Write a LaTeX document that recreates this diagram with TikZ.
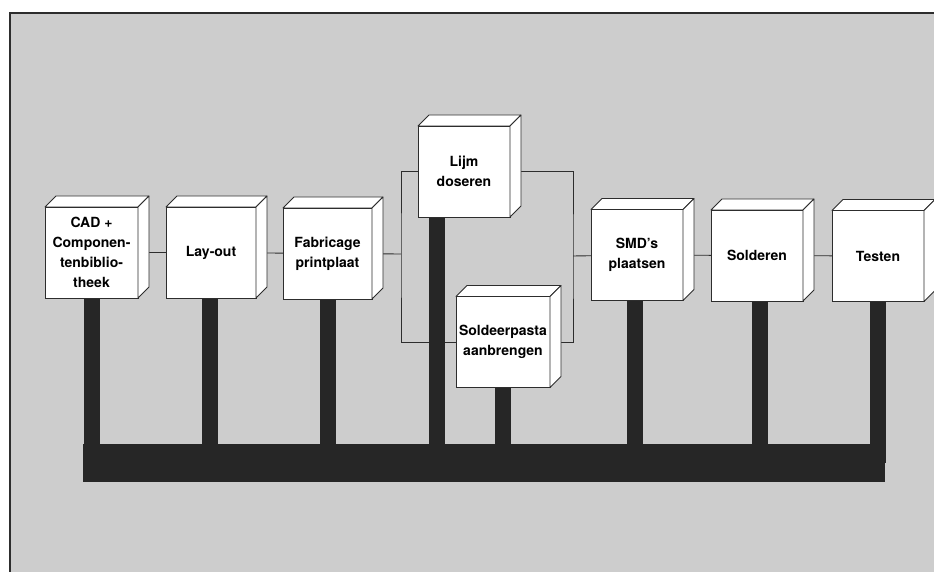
\documentclass[tikz,border=0pt]{standalone}
\usepackage{fontspec}
\setmainfont{TeX Gyre Heros}
\begin{document}
\pgfdeclarelayer{panel}
\pgfdeclarelayer{background}
\pgfsetlayers{panel,background,main}
\definecolor{panelgray}{RGB}{205,205,205}
\definecolor{busdark}{RGB}{38,38,38}
\definecolor{edge}{RGB}{45,45,45}
\tikzset{
  cubebox/.style={draw=edge, fill=white, line width=0.8pt, inner sep=0pt, outer sep=0pt,
    minimum width=92pt, minimum height=91pt, align=center,
    font=\fontsize{14}{20}\selectfont\bfseries},
  face/.style={draw=edge, fill=white, line width=0.8pt, line join=round},
  link/.style={draw=edge, line width=0.9pt},
  bar/.style={draw=busdark, line width=16pt, line cap=butt},
  busbar/.style={fill=busdark, inner sep=0pt, outer sep=0pt, minimum width=802pt, minimum height=38pt},
}
\begin{tikzpicture}[x=1pt, y=-1pt]
  \useasboundingbox (0,0) rectangle (934,572);

  % process steps
  \node[cubebox, minimum width=93pt] (cad)  at (91.5,252.5) {CAD +\\Componen-\\tenbiblio-\\theek};
  \node[cubebox, minimum width=90pt] (lay)  at (211,252.5) {Lay-out};
  \node[cubebox, minimum width=89pt] (fab)  at (327.5,253.5) {Fabricage\\printplaat};
  \node[cubebox] (lijm) at (464,171.5) {Lijm\\doseren};
  \node[cubebox, minimum width=94pt] (sold) at (503,342) {Soldeerpasta\\aanbrengen};
  \node[cubebox] (smd)  at (637,255) {SMD's\\plaatsen};
  \node[cubebox] (sol)  at (757,255.5) {Solderen};
  \node[cubebox] (test) at (878,256) {Testen};

  % top and side faces of each block
  \foreach \n in {cad,lay,fab,lijm,sold,smd,sol,test}{
    \draw[face] (\n.north west) -- ++(11,-11) -- ([shift={(11,-11)}]\n.north east) -- (\n.north east) -- cycle;
    \draw[face] (\n.north east) -- ++(11,-11) -- ([shift={(11,-11)}]\n.south east) -- (\n.south east) -- cycle;
  }

  % common bus
  \node[busbar] (bus) at (484,463) {};

  \begin{pgfonlayer}{background}
    % thin flow connections
    \coordinate (jl) at (401,254);
    \coordinate (jr) at (573,256);
    \draw[link] (cad) -- (lay);
    \draw[link] (lay) -- (fab);
    \draw[link] (fab) -- (jl);
    \draw[link] (lijm) -| (jl) |- (sold);
    \draw[link] (lijm) -| (jr) |- (sold);
    \draw[link] (jr) -- (smd);
    \draw[link] (smd) -- (sol);
    \draw[link] (sol) -- (test);
    % posts down to the bus
    \coordinate (lijmpost) at (437,200);
    \foreach \n in {cad,fab,sold,test}{
      \draw[bar] (\n.center) -- (\n.center |- bus.center);
    }
    \coordinate (laypost) at (209.5,280);
    \coordinate (smdpost) at (634.5,280);
    \coordinate (solpost) at (760,280);
    \foreach \p in {lijmpost,laypost,smdpost,solpost}{
      \draw[bar] (\p) -- (\p |- bus.center);
    }
  \end{pgfonlayer}

  \begin{pgfonlayer}{panel}
    \fill[panelgray] (10,13) rectangle (934,572);
    \draw[edge, line width=1.3pt] (934,13) -- (10,13) -- (10,572);
  \end{pgfonlayer}
\end{tikzpicture}
\end{document}
